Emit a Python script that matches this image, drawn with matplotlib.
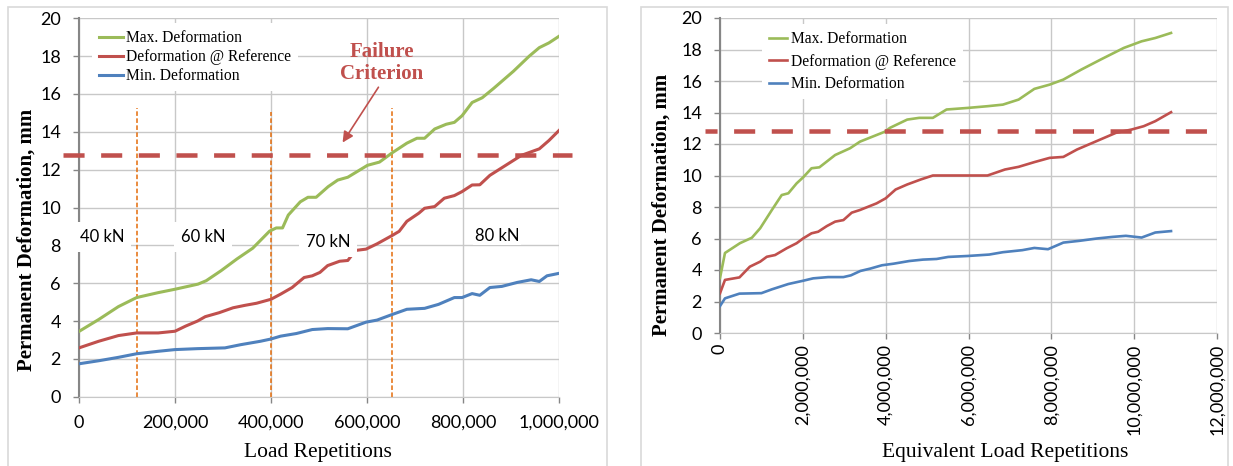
import matplotlib.pyplot as plt
from matplotlib.patches import Rectangle
from matplotlib.ticker import FuncFormatter, MultipleLocator

# colours
GREEN = '#9BBB59'
RED = '#C0504D'
BLUE = '#4F81BD'
ORANGE = '#E46C0A'
GRID = '#C8C8C8'
AXIS = '#868686'
SERIF = 'Liberation Serif'
SANS = 'Lato'

# --- load repetitions (left panel) ---
max_x = [0, 41e3, 82e3, 120e3, 165e3, 200e3, 248e3, 265e3, 296e3, 329e3, 362e3, 397e3, 411e3,
         424e3, 436e3, 461e3, 477e3, 494e3, 519e3, 539e3, 560e3, 601e3, 626e3, 653e3, 683e3,
         704e3, 720e3, 741e3, 765e3, 782e3, 798e3, 819e3, 840e3, 864e3, 905e3, 938e3, 959e3,
         979e3, 1000e3]
max_y = [3.45, 4.08, 4.76, 5.24, 5.5, 5.68, 5.95, 6.13, 6.66, 7.28, 7.85, 8.75, 8.92,
         8.92, 9.6, 10.3, 10.54, 10.54, 11.1, 11.45, 11.6, 12.23, 12.4, 12.9, 13.4,
         13.66, 13.66, 14.15, 14.4, 14.5, 14.85, 15.55, 15.8, 16.3, 17.2, 18.0, 18.45,
         18.7, 19.05]

ref_x = [0, 41e3, 82e3, 120e3, 165e3, 200e3, 222e3, 247e3, 263e3, 292e3, 321e3, 346e3, 370e3,
         400e3, 420e3, 444e3, 469e3, 486e3, 502e3, 518e3, 543e3, 560e3, 576e3, 598e3, 621e3,
         653e3, 667e3, 683e3, 708e3, 720e3, 741e3, 761e3, 782e3, 798e3, 819e3, 835e3, 856e3,
         889e3, 922e3, 959e3, 979e3, 1000e3]
ref_y = [2.58, 2.93, 3.23, 3.37, 3.37, 3.46, 3.73, 4.0, 4.23, 4.44, 4.7, 4.83, 4.94,
         5.15, 5.42, 5.77, 6.3, 6.39, 6.57, 6.93, 7.16, 7.2, 7.73, 7.8, 8.08,
         8.53, 8.74, 9.27, 9.7, 9.96, 10.05, 10.49, 10.63, 10.84, 11.19, 11.2, 11.7,
         12.23, 12.76, 13.1, 13.54, 14.07]

min_x = [0, 41e3, 82e3, 120e3, 165e3, 200e3, 247e3, 304e3, 337e3, 378e3, 400e3, 420e3, 453e3,
         486e3, 518e3, 560e3, 598e3, 621e3, 653e3, 683e3, 720e3, 749e3, 782e3, 798e3, 819e3,
         835e3, 856e3, 881e3, 913e3, 942e3, 959e3, 975e3, 1000e3]
min_y = [1.74, 1.9, 2.08, 2.27, 2.4, 2.49, 2.54, 2.58, 2.75, 2.93, 3.05, 3.2, 3.34,
         3.55, 3.6, 3.59, 3.94, 4.05, 4.35, 4.62, 4.67, 4.88, 5.24, 5.24, 5.45,
         5.36, 5.77, 5.83, 6.04, 6.18, 6.09, 6.39, 6.52]

# load steps and where they change
load_change_x = [120e3, 400e3, 652e3]
load_change_top = [15.25, 15.05, 15.25]
load_labels = ['40 kN', '60 kN', '70 kN', '80 kN']
load_label_x = [48e3, 258e3, 519e3, 871e3]
load_label_y = [8.45, 8.45, 8.2, 8.5]
load_label_pad = [5, 5, 5, 1]

failure_limit = 12.8

# --- equivalent load repetitions (right panel), millions ---
eq_max_x = [0, 0.12, 0.48, 0.77, 0.97, 1.25, 1.49, 1.65, 1.85, 2.01, 2.21, 2.4, 2.78, 3.14,
            3.38, 3.98, 4.1, 4.52, 4.81, 5.14, 5.47, 5.98, 6.46, 6.83, 7.21, 7.59, 7.96, 8.29,
            8.72, 9.19, 9.75, 10.18, 10.51, 10.89]
eq_max_y = [3.49, 5.08, 5.7, 6.05, 6.65, 7.8, 8.76, 8.87, 9.5, 9.89, 10.46, 10.52, 11.3, 11.73,
            12.15, 12.78, 13.02, 13.55, 13.66, 13.66, 14.19, 14.29, 14.4, 14.5, 14.82, 15.5, 15.77, 16.09,
            16.72, 17.36, 18.1, 18.52, 18.73, 19.05]

eq_ref_x = [0, 0.12, 0.47, 0.72, 0.97, 1.13, 1.33, 1.61, 1.85, 2.01, 2.21, 2.37, 2.58, 2.78,
            2.98, 3.18, 3.38, 3.78, 4.0, 4.24, 4.52, 4.85, 5.14, 5.51, 6.46, 6.88, 7.21, 7.59,
            7.96, 8.29, 8.62, 9.09, 9.56, 9.94, 10.23, 10.51, 10.89]
eq_ref_y = [2.52, 3.37, 3.53, 4.21, 4.53, 4.84, 4.95, 5.38, 5.7, 6.01, 6.33, 6.43, 6.79, 7.07,
            7.17, 7.64, 7.81, 8.23, 8.55, 9.11, 9.43, 9.75, 10.0, 10.0, 10.0, 10.38, 10.55, 10.85,
            11.12, 11.18, 11.65, 12.18, 12.71, 12.92, 13.13, 13.45, 14.02]

eq_min_x = [0, 0.12, 0.47, 1.0, 1.25, 1.65, 2.01, 2.25, 2.61, 2.98, 3.16, 3.39, 3.63, 3.91,
            4.19, 4.57, 4.9, 5.23, 5.51, 5.98, 6.5, 6.83, 7.3, 7.59, 7.92, 8.29, 8.67, 9.1,
            9.47, 9.8, 10.18, 10.51, 10.89]
eq_min_y = [1.71, 2.2, 2.5, 2.53, 2.77, 3.11, 3.32, 3.47, 3.55, 3.55, 3.66, 3.94, 4.09, 4.3,
            4.4, 4.57, 4.66, 4.7, 4.83, 4.89, 4.98, 5.13, 5.26, 5.4, 5.32, 5.74, 5.85, 6.0,
            6.1, 6.17, 6.06, 6.38, 6.47]

series_names = ['Max. Deformation', 'Deformation @ Reference', 'Min. Deformation']

fig = plt.figure(figsize=(12.33, 4.66), dpi=100)

# light frames around the two chart areas
for x0, x1 in [(8, 607), (641, 1228)]:
    fig.add_artist(Rectangle((x0 / 1233, -0.1), (x1 - x0) / 1233, 1.1 - 7 / 466,
                             transform=fig.transFigure, fill=False, ec='#D9D9D9', lw=1.2))

axL = fig.add_axes([79 / 1233, 69.3 / 466, 480 / 1233, 378.4 / 466])
axR = fig.add_axes([720 / 1233, 133 / 466, 497 / 1233, 315 / 466])

comma = FuncFormatter(lambda v, p: f'{v:,.0f}')


def style_axes(ax):
    ax.set_axisbelow(True)
    ax.grid(True, color=GRID, lw=1)
    for s in ['top', 'right']:
        ax.spines[s].set_visible(False)
    ax.spines['bottom'].set_color(GRID)
    ax.spines['left'].set_color(AXIS)
    ax.spines['left'].set_linewidth(1.5)
    ax.set_ylim(0, 20)
    ax.yaxis.set_major_locator(MultipleLocator(2))
    ax.xaxis.set_major_formatter(comma)
    ax.tick_params(direction='out', length=4, width=1, color=AXIS, pad=9, labelsize=13)
    for t in ax.get_xticklabels() + ax.get_yticklabels():
        t.set_family(SANS)
    ax.set_ylabel('Permanent Deformation, mm', family=SERIF, fontweight='bold', fontsize=15)


# left panel
axL.plot(max_x, max_y, color=GREEN, lw=2.2, zorder=3)
axL.plot(ref_x, ref_y, color=RED, lw=2.2, zorder=3)
axL.plot(min_x, min_y, color=BLUE, lw=2.2, zorder=3)
axL.set_xlim(0, 1e6)
axL.xaxis.set_major_locator(MultipleLocator(200e3))
style_axes(axL)
axL.vlines(load_change_x, 0, load_change_top, colors=ORANGE, linestyles=(0, (3, 1.6)), lw=1.1, zorder=2.5)
axL.axhline(failure_limit, xmin=-0.033, xmax=1.027, color=RED, lw=3.25,
            linestyle=(0, (4.67, 3.67)), clip_on=False, zorder=3.5)
for lab, x, y, pad in zip(load_labels, load_label_x, load_label_y, load_label_pad):
    axL.text(x, y, lab, ha='center', va='center', family=SANS, fontsize=12, zorder=4,
             bbox=dict(facecolor='white', edgecolor='none', pad=pad))
axL.text(631e3, 17.64, 'Failure\nCriterion', ha='center', va='center', color=RED,
         family=SERIF, fontweight='bold', fontsize=15, linespacing=1.15)
axL.annotate('', xy=(546e3, 13.31), xytext=(627e3, 16.48),
             arrowprops=dict(arrowstyle='-|>', color=RED, lw=1.2, mutation_scale=16))
axL.set_xlabel('Load Repetitions', family=SERIF, fontsize=15.5)
axL.xaxis.set_label_coords(0.497, -0.122)
axL.yaxis.set_label_coords(-0.0875, 0.414)
axL.legend(series_names, loc='upper left', bbox_to_anchor=(0.027, 0.9876), borderaxespad=0,
           prop={'family': SERIF, 'size': 11.2}, frameon=True, facecolor='white', edgecolor='none',
           framealpha=1, fancybox=False, handlelength=1.55, handletextpad=0.2, labelspacing=0.2,
           borderpad=0.45)

# right panel
axR.plot([v * 1e6 for v in eq_max_x], eq_max_y, color=GREEN, lw=1.9, zorder=3)
axR.plot([v * 1e6 for v in eq_ref_x], eq_ref_y, color=RED, lw=1.9, zorder=3)
axR.plot([v * 1e6 for v in eq_min_x], eq_min_y, color=BLUE, lw=1.9, zorder=3)
axR.set_xlim(0, 12e6)
axR.xaxis.set_major_locator(MultipleLocator(2e6))
style_axes(axR)
axR.tick_params(axis='x', labelrotation=90, pad=4)
axR.axhline(failure_limit, xmin=-0.03, xmax=1.006, color=RED, lw=3.25,
            linestyle=(2.0, (4.67, 3.67)), clip_on=False, zorder=3.5)
axR.set_xlabel('Equivalent Load Repetitions', family=SERIF, fontsize=15.5)
axR.xaxis.set_label_coords(0.573, -0.349)
axR.yaxis.set_label_coords(-0.0966, 0.406)
axR.legend(series_names, loc='upper left', bbox_to_anchor=(0.084, 0.981), borderaxespad=0,
           prop={'family': SERIF, 'size': 11.2}, frameon=True, facecolor='white', edgecolor='none',
           framealpha=1, fancybox=False, handlelength=1.2, handletextpad=0.25, labelspacing=0.42,
           borderpad=0.45)

fig.savefig('out.png', dpi=100)
